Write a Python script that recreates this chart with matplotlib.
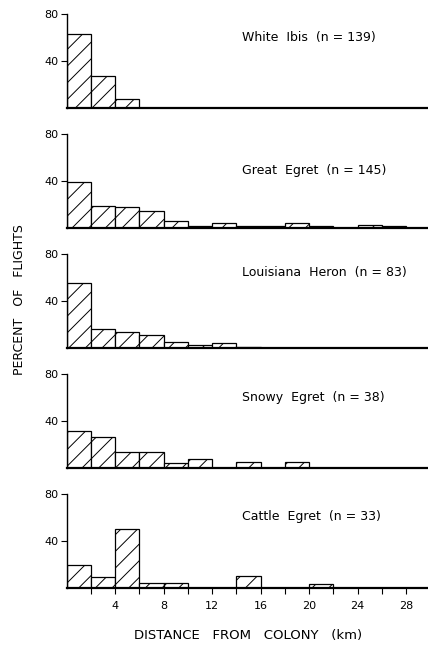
import numpy as np
import matplotlib
matplotlib.use("Agg")
import matplotlib.pyplot as plt

# 2-km distance bins, 0-30 km
bin_left = np.arange(0, 30, 2)

species = ["White  Ibis", "Great  Egret", "Louisiana  Heron", "Snowy  Egret", "Cattle  Egret"]
sample_n = [139, 145, 83, 38, 33]

# percent of flights per bin
white_ibis = [63, 27, 8, 0, 0, 0, 0, 0, 0, 0, 0, 0, 0, 0, 0]
great_egret = [39, 19, 18, 15, 6, 2, 4.5, 2, 2, 4.5, 2, 0, 3, 2, 0]
louisiana_heron = [55, 16, 13.5, 11, 5, 2.5, 4.5, 0.8, 0, 0, 0, 0, 0, 0, 0]
snowy_egret = [32, 26.5, 14, 14, 4.5, 7.5, 0, 5.3, 0, 5.3, 0, 0, 0, 0, 0]
cattle_egret = [19.5, 9.5, 50, 4.5, 4.5, 0, 0, 10, 0, 0, 3.5, 0, 0, 0, 0]
series = [white_ibis, great_egret, louisiana_heron, snowy_egret, cattle_egret]

# label y position (percent units) inside each panel
label_y = [60, 49, 64, 60, 61]

W, H = 428, 646
fig = plt.figure(figsize=(W / 100, H / 100), dpi=100)
plt.rcParams["hatch.linewidth"] = 0.7

baselines = [108.3, 228.3, 348.3, 468.3, 588.3]
left_px = 66.5
px_per_km = 12.125
panel_h = 94.5
xmax = (W - left_px) / px_per_km

for i, (vals, name, n) in enumerate(zip(series, species, sample_n)):
    ax = fig.add_axes([left_px / W, (H - baselines[i]) / H, 1 - left_px / W, panel_h / H])
    vals = np.array(vals, dtype=float)
    keep = vals > 0
    ax.bar(bin_left[keep], vals[keep], width=2, align="edge", facecolor="white",
           edgecolor="black", linewidth=0.9, hatch="//")
    ax.set_xlim(0, xmax)
    ax.set_ylim(0, 80)
    for s in ["top", "right"]:
        ax.spines[s].set_visible(False)
    ax.spines["left"].set_bounds(0, 80)
    ax.spines["left"].set_linewidth(1.0)
    ax.spines["bottom"].set_linewidth(1.6)
    ax.spines["left"].set_zorder(5)
    ax.spines["bottom"].set_zorder(5)
    ax.set_yticks([40, 80])
    ax.set_yticklabels(["40", "80"], fontsize=8)
    ax.tick_params(axis="y", direction="out", length=4, width=0.8, pad=2)
    ax.set_facecolor("none")
    if i < 4:
        ax.set_xticks([])
    else:
        ax.set_xticks(np.arange(2, 30, 2))
        ax.set_xticklabels([str(t) if t % 4 == 0 else "" for t in range(2, 30, 2)], fontsize=8)
        ax.tick_params(axis="x", direction="out", length=4, width=0.8, pad=5)
    ax.text(14.5, label_y[i], f"{name}  (n = {n})", fontsize=9, ha="left", va="center")

fig.text(20 / W, 1 - 300 / H, "PERCENT   OF   FLIGHTS", rotation=90, fontsize=9,
         ha="center", va="center")
fig.text(248 / W, 1 - 636 / H, "DISTANCE   FROM   COLONY   (km)", fontsize=9.5,
         ha="center", va="center")

fig.savefig("out.png", dpi=100)
